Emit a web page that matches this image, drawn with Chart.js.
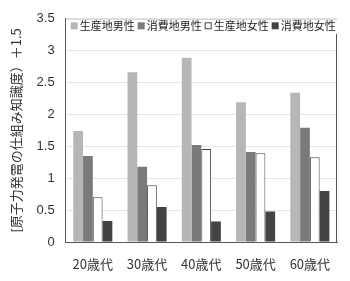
<!DOCTYPE html>
<html>
<head>
<meta charset="utf-8">
<script src="https://cdn.jsdelivr.net/npm/chart.js@4.4.1/dist/chart.umd.min.js"></script>
<style>
	html, body { margin: 0; padding: 0; background: #fff; }
	#wrap { width: 350px; height: 281px; }
</style>
</head>
<body>
<div id="wrap"><canvas id="chart"></canvas></div>
<script>
// --- Data ---
const categories = ['20歳代', '30歳代', '40歳代', '50歳代', '60歳代'];
const seriesNames = ['生産地男性', '消費地男性', '生産地女性', '消費地女性'];
const prodMale = [1.74, 2.66, 2.89, 2.19, 2.34];
const consMale = [1.35, 1.18, 1.52, 1.41, 1.79];
const prodFemale = [0.70, 0.89, 1.46, 1.39, 1.33];
const consFemale = [0.33, 0.55, 0.32, 0.48, 0.80];
const yTicks = ['0', '0.5', '1', '1.5', '2', '2.5', '3', '3.5'];

const fontFam = '"Noto Sans CJK JP", "Liberation Sans", sans-serif';

// plot frame: light top edge, dark right edge below the legend
const framePlugin = {
	id: 'frame',
	afterDraw(chart) {
		const a = chart.chartArea;
		const ctx = chart.ctx;
		ctx.save();
		ctx.strokeStyle = '#d0d0d0';
		ctx.lineWidth = 1;
		ctx.beginPath();
		ctx.moveTo(a.left, a.top + 0.5);
		ctx.lineTo(a.right, a.top + 0.5);
		ctx.stroke();
		ctx.strokeStyle = '#555';
		ctx.beginPath();
		ctx.moveTo(a.right - 0.5, a.top + 15);
		ctx.lineTo(a.right - 0.5, a.bottom);
		ctx.stroke();
		ctx.restore();
	}
};

// single-row legend inside the top of the plot
const inlineLegend = {
	id: 'inlineLegend',
	afterDraw(chart) {
		const a = chart.chartArea;
		const ctx = chart.ctx;
		ctx.save();
		ctx.font = '11px ' + fontFam;
		ctx.textBaseline = 'middle';
		let x = a.left + 5;
		const y = a.top + 7;
		chart.data.datasets.forEach((ds) => {
			ctx.fillStyle = ds.backgroundColor;
			ctx.fillRect(x, y - 3.5, 7, 7);
			if (ds.borderWidth) {
				ctx.strokeStyle = ds.borderColor;
				ctx.lineWidth = 1;
				ctx.strokeRect(x + 0.5, y - 3, 6, 6);
			}
			x += 9;
			ctx.fillStyle = '#222';
			ctx.fillText(ds.label, x, y);
			x += ctx.measureText(ds.label).width + 3;
		});
		ctx.restore();
	}
};

const ctx = document.getElementById('chart').getContext('2d');
new Chart(ctx, {
	type: 'bar',
	data: {
		labels: categories,
		datasets: [
			{ label: seriesNames[0], data: prodMale, backgroundColor: '#b6b6b6', borderWidth: 0 },
			{ label: seriesNames[1], data: consMale, backgroundColor: '#7a7a7a', borderWidth: 0 },
			{ label: seriesNames[2], data: prodFemale, backgroundColor: '#ffffff', borderColor: '#444', borderWidth: 1 },
			{ label: seriesNames[3], data: consFemale, backgroundColor: '#434343', borderWidth: 0 }
		]
	},
	options: {
		responsive: true,
		maintainAspectRatio: false,
		animation: false,
		layout: { padding: { left: 8, right: 13, top: 15, bottom: 1 } },
		datasets: { bar: { categoryPercentage: 0.72, barPercentage: 1.0 } },
		scales: {
			x: {
				grid: { display: false, drawTicks: false },
				border: { color: '#555' },
				ticks: { color: '#333', font: { family: fontFam, size: 13 }, padding: 14 },
				afterFit: (scale) => { scale.height = 38; }
			},
			y: {
				min: 0,
				max: 3.5,
				grid: { color: '#e4e4e4', drawTicks: false },
				border: { color: '#555' },
				ticks: {
					stepSize: 0.5,
					color: '#333',
					padding: 11,
					font: { family: '"Liberation Sans", sans-serif', size: 13 },
					callback: (v, i) => yTicks[i]
				},
				title: {
					display: true,
					text: '[原子力発電の仕組み知識度）＋1.5',
					color: '#333',
					font: { family: fontFam, size: 13 },
					padding: { top: 0, bottom: 2 }
				}
			}
		},
		plugins: { legend: { display: false }, tooltip: { enabled: false } }
	},
	plugins: [framePlugin, inlineLegend]
});
</script>
</body>
</html>
